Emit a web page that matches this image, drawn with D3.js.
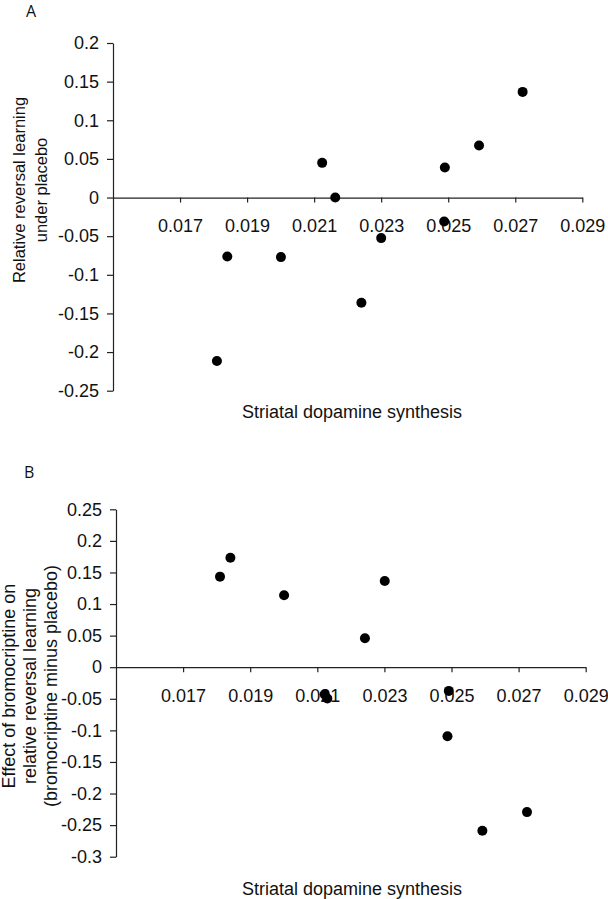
<!DOCTYPE html>
<html>
<head>
<meta charset="utf-8">
<script src="https://cdn.jsdelivr.net/npm/d3@7"></script>
<style>
  body { margin: 0; background: #fff; }
  text { font-family: "Liberation Sans", Arial, sans-serif; fill: #111; }
  text.panelLabel { font-family: "Open Sans", "Noto Sans", sans-serif; font-size: 16px; }
</style>
</head>
<body>
<div id="chart"></div>
<script>
// Data
var xTicks = [0.017, 0.019, 0.021, 0.023, 0.025, 0.027, 0.029];
var xDomain = [0.015, 0.029];

// Panel A: relative reversal learning under placebo
var synthA = [0.01810, 0.01841, 0.02001, 0.02124, 0.02163, 0.02241, 0.02300, 0.02488, 0.02490, 0.02592, 0.02722];
var learnA = [-0.2116, -0.0763, -0.0771, 0.0449, 0.0, -0.1362, -0.0525, -0.031, 0.0388, 0.0673, 0.1367];
var yTicksA = [0.2, 0.15, 0.1, 0.05, 0, -0.05, -0.1, -0.15, -0.2, -0.25];

// Panel B: effect of bromocriptine (bromocriptine minus placebo)
var synthB = [0.01810, 0.01841, 0.02001, 0.02122, 0.02130, 0.02242, 0.02301, 0.02492, 0.02488, 0.02592, 0.02725];
var effectB = [0.1434, 0.1734, 0.1139, -0.0430, -0.0494, 0.0459, 0.1366, -0.0375, -0.1092, -0.2590, -0.2294];
var yTicksB = [0.25, 0.2, 0.15, 0.1, 0.05, 0, -0.05, -0.1, -0.15, -0.2, -0.25, -0.3];

var svgWidth = 608;
var svgHeight = 899;

var svg = d3.select("#chart")
    .append("svg")
    .attr("width", svgWidth)
    .attr("height", svgHeight);

svg.append("rect")
    .attr("width", svgWidth)
    .attr("height", svgHeight)
    .attr("fill", "#fff");

var fmt = function (d) { return String(+d.toFixed(3)); };

function drawPanel(p) {
    var xScale = d3.scaleLinear()
        .domain(xDomain)
        .range([p.left, p.right]);

    var yScale = d3.scaleLinear()
        .domain([d3.min(p.yTicks), d3.max(p.yTicks)])
        .range([p.bottom, p.top]);

    // y axis
    var yAxis = svg.append("g")
        .attr("transform", `translate(${p.left}, 0)`)
        .call(d3.axisLeft(yScale)
            .tickValues(p.yTicks)
            .tickSize(6)
            .tickSizeOuter(0)
            .tickPadding(8)
            .tickFormat(fmt));

    // x axis sits on y = 0
    var xAxis = svg.append("g")
        .attr("transform", `translate(0, ${yScale(0)})`)
        .call(d3.axisBottom(xScale)
            .tickValues(xTicks)
            .tickSize(5)
            .tickSizeOuter(0)
            .tickPadding(17)
            .tickFormat(d3.format(".3f")));

    [yAxis, xAxis].forEach(function (g) {
        g.selectAll("path, line").attr("stroke", "#222").attr("stroke-width", 1.2);
        g.selectAll("text")
            .attr("fill", "#111")
            .style("font-family", "'Liberation Sans', Arial, sans-serif")
            .style("font-size", "18px");
    });

    // points
    svg.append("g")
        .selectAll("circle")
        .data(p.xs)
        .enter()
        .append("circle")
        .attr("cx", d => xScale(d))
        .attr("cy", (d, i) => yScale(p.ys[i]))
        .attr("r", 5)
        .attr("fill", "#000");

    // y title (rotated, multi-line)
    var yt = svg.append("text")
        .attr("transform", `translate(0, ${p.yTitleY}) rotate(-90)`)
        .attr("text-anchor", "middle")
        .style("font-size", p.yTitleSize + "px");
    p.yTitle.forEach(function (line, i) {
        yt.append("tspan")
            .attr("x", 0)
            .attr("y", p.yTitleX[i])
            .text(line);
    });

    // x title
    svg.append("text")
        .attr("x", 352)
        .attr("y", p.xTitleY)
        .attr("text-anchor", "middle")
        .style("font-size", "18px")
        .text("Striatal dopamine synthesis");

    svg.append("text")
        .attr("class", "panelLabel")
        .attr("x", p.labelX)
        .attr("y", p.labelY)
        .text(p.label);
}

drawPanel({
    label: "A", labelX: 26, labelY: 17,
    left: 113, right: 582.3, top: 43, bottom: 390.7,
    yTicks: yTicksA, xs: synthA, ys: learnA,
    yTitle: ["Relative reversal learning", "under placebo"],
    yTitleX: [25, 47], yTitleY: 190, yTitleSize: 16.5,
    xTitleY: 418
});

drawPanel({
    label: "B", labelX: 24, labelY: 478,
    left: 116, right: 585.7, top: 509.3, bottom: 856.7,
    yTicks: yTicksB, xs: synthB, ys: effectB,
    yTitle: ["Effect of bromocriptine on", "relative reversal learning", "(bromocriptine minus placebo)"],
    yTitleX: [15, 36, 57], yTitleY: 686, yTitleSize: 18,
    xTitleY: 895
});
</script>
</body>
</html>
